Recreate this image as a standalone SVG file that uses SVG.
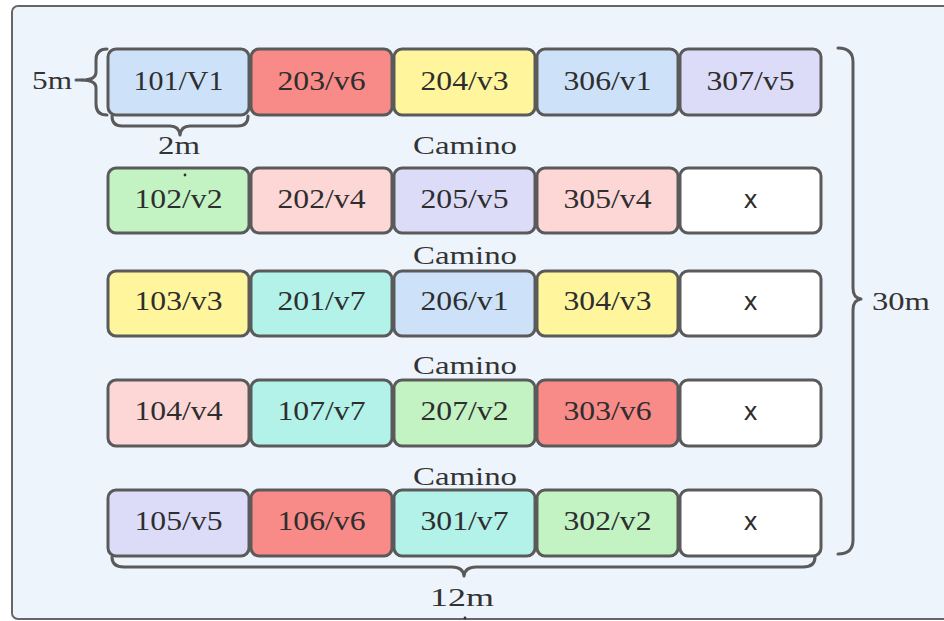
<svg xmlns="http://www.w3.org/2000/svg" width="944" height="621" viewBox="0 0 944 621">
<style>
.box{stroke:#5a5a5a;stroke-width:3}
.lbl{font-family:"Liberation Serif","DejaVu Serif",serif;font-size:27px;fill:#2e2e2e;text-anchor:middle}
.x{font-family:"DejaVu Sans","Liberation Sans",sans-serif;font-size:24px;fill:#2e2e2e;text-anchor:middle}
.cam{font-family:"Liberation Serif","DejaVu Serif",serif;font-size:25px;fill:#333;text-anchor:middle}
.brace{fill:none;stroke:#5a5a5a;stroke-width:3;stroke-linecap:round;stroke-linejoin:round}
.blue{fill:#cde2f9}.red{fill:#f88a88}.yel{fill:#fff59d}.lav{fill:#dddcf8}.grn{fill:#c3f2c3}.pnk{fill:#fdd6d6}.teal{fill:#b3f2e8}.wht{fill:#ffffff}
</style>
<rect x="0" y="0" width="944" height="621" fill="#ffffff"/>
<rect x="12" y="6" width="945" height="613" rx="6" fill="#eef4fc" stroke="#666" stroke-width="2"/>

<g id="row1">
<g id="n101"><rect class="box blue" x="108" y="49" width="141" height="66" rx="8"/><text class="lbl" x="178.5" y="90" textLength="90" lengthAdjust="spacingAndGlyphs">101/V1</text></g>
<g id="n203"><rect class="box red" x="251" y="49" width="141" height="66" rx="8"/><text class="lbl" x="321.5" y="90" textLength="88" lengthAdjust="spacingAndGlyphs">203/v6</text></g>
<g id="n204"><rect class="box yel" x="394" y="49" width="141" height="66" rx="8"/><text class="lbl" x="464.5" y="90" textLength="88" lengthAdjust="spacingAndGlyphs">204/v3</text></g>
<g id="n306"><rect class="box blue" x="537" y="49" width="141" height="66" rx="8"/><text class="lbl" x="607.5" y="90" textLength="88" lengthAdjust="spacingAndGlyphs">306/v1</text></g>
<g id="n307"><rect class="box lav" x="680" y="49" width="141" height="66" rx="8"/><text class="lbl" x="750.5" y="90" textLength="88" lengthAdjust="spacingAndGlyphs">307/v5</text></g>
</g>

<g id="row2">
<g id="n102"><rect class="box grn" x="108" y="168" width="141" height="65" rx="8"/><text class="lbl" x="178.5" y="208" textLength="88" lengthAdjust="spacingAndGlyphs">102/v2</text></g>
<g id="n202"><rect class="box pnk" x="251" y="168" width="141" height="65" rx="8"/><text class="lbl" x="321.5" y="208" textLength="88" lengthAdjust="spacingAndGlyphs">202/v4</text></g>
<g id="n205"><rect class="box lav" x="394" y="168" width="141" height="65" rx="8"/><text class="lbl" x="464.5" y="208" textLength="88" lengthAdjust="spacingAndGlyphs">205/v5</text></g>
<g id="n305"><rect class="box pnk" x="537" y="168" width="141" height="65" rx="8"/><text class="lbl" x="607.5" y="208" textLength="88" lengthAdjust="spacingAndGlyphs">305/v4</text></g>
<g id="x2"><rect class="box wht" x="680" y="168" width="141" height="65" rx="8"/><text class="x" x="750.5" y="208">x</text></g>
</g>

<g id="row3">
<g id="n103"><rect class="box yel" x="108" y="271" width="141" height="65" rx="8"/><text class="lbl" x="178.5" y="310" textLength="88" lengthAdjust="spacingAndGlyphs">103/v3</text></g>
<g id="n201"><rect class="box teal" x="251" y="271" width="141" height="65" rx="8"/><text class="lbl" x="321.5" y="310" textLength="88" lengthAdjust="spacingAndGlyphs">201/v7</text></g>
<g id="n206"><rect class="box blue" x="394" y="271" width="141" height="65" rx="8"/><text class="lbl" x="464.5" y="310" textLength="88" lengthAdjust="spacingAndGlyphs">206/v1</text></g>
<g id="n304"><rect class="box yel" x="537" y="271" width="141" height="65" rx="8"/><text class="lbl" x="607.5" y="310" textLength="88" lengthAdjust="spacingAndGlyphs">304/v3</text></g>
<g id="x3"><rect class="box wht" x="680" y="271" width="141" height="65" rx="8"/><text class="x" x="750.5" y="310">x</text></g>
</g>

<g id="row4">
<g id="n104"><rect class="box pnk" x="108" y="380" width="141" height="66" rx="8"/><text class="lbl" x="178.5" y="420" textLength="88" lengthAdjust="spacingAndGlyphs">104/v4</text></g>
<g id="n107"><rect class="box teal" x="251" y="380" width="141" height="66" rx="8"/><text class="lbl" x="321.5" y="420" textLength="88" lengthAdjust="spacingAndGlyphs">107/v7</text></g>
<g id="n207"><rect class="box grn" x="394" y="380" width="141" height="66" rx="8"/><text class="lbl" x="464.5" y="420" textLength="88" lengthAdjust="spacingAndGlyphs">207/v2</text></g>
<g id="n303"><rect class="box red" x="537" y="380" width="141" height="66" rx="8"/><text class="lbl" x="607.5" y="420" textLength="88" lengthAdjust="spacingAndGlyphs">303/v6</text></g>
<g id="x4"><rect class="box wht" x="680" y="380" width="141" height="66" rx="8"/><text class="x" x="750.5" y="420">x</text></g>
</g>

<g id="row5">
<g id="n105"><rect class="box lav" x="108" y="490" width="141" height="66" rx="8"/><text class="lbl" x="178.5" y="530" textLength="88" lengthAdjust="spacingAndGlyphs">105/v5</text></g>
<g id="n106"><rect class="box red" x="251" y="490" width="141" height="66" rx="8"/><text class="lbl" x="321.5" y="530" textLength="88" lengthAdjust="spacingAndGlyphs">106/v6</text></g>
<g id="n301"><rect class="box teal" x="394" y="490" width="141" height="66" rx="8"/><text class="lbl" x="464.5" y="530" textLength="88" lengthAdjust="spacingAndGlyphs">301/v7</text></g>
<g id="n302"><rect class="box grn" x="537" y="490" width="141" height="66" rx="8"/><text class="lbl" x="607.5" y="530" textLength="88" lengthAdjust="spacingAndGlyphs">302/v2</text></g>
<g id="x5"><rect class="box wht" x="680" y="490" width="141" height="66" rx="8"/><text class="x" x="750.5" y="530">x</text></g>
</g>

<g id="labels">
<text class="cam" x="465" y="154" textLength="104" lengthAdjust="spacingAndGlyphs">Camino</text>
<text class="cam" x="465" y="264" textLength="104" lengthAdjust="spacingAndGlyphs">Camino</text>
<text class="cam" x="465" y="374" textLength="104" lengthAdjust="spacingAndGlyphs">Camino</text>
<text class="cam" x="465" y="485" textLength="104" lengthAdjust="spacingAndGlyphs">Camino</text>
<text class="cam" x="52" y="89" textLength="40" lengthAdjust="spacingAndGlyphs">5m</text>
<text class="cam" x="179" y="154" textLength="42" lengthAdjust="spacingAndGlyphs">2m</text>
<text class="cam" x="901" y="310" textLength="58" lengthAdjust="spacingAndGlyphs">30m</text>
<text class="cam" x="462" y="606" textLength="64" lengthAdjust="spacingAndGlyphs">12m</text>
</g>

<g id="connectors">
<path class="brace" d="M107,49 Q96,49 96,60 L96,72 Q96,80 82,80 Q96,80 96,88 L96,104 Q96,115 107,115"/>
<line class="brace" x1="76" y1="80" x2="82" y2="80"/>
<path class="brace" d="M112,116 Q112,126 122,126 L170,126 Q179,126 180,135 Q181,126 190,126 L238,126 Q248,126 248,116"/>
<path class="brace" d="M838,48 Q853,48 853,62 L853,288 Q853,298 861,299 Q853,300 853,310 L853,540 Q853,554 838,554"/>
<path class="brace" d="M112,557 Q112,567 124,567 L452,567 Q463,567 464,576 Q465,567 476,567 L803,567 Q815,567 815,557"/>
<circle cx="185" cy="175" r="1.4" fill="#333"/>
<circle cx="465" cy="618" r="1.4" fill="#333"/>
</g>
</svg>
